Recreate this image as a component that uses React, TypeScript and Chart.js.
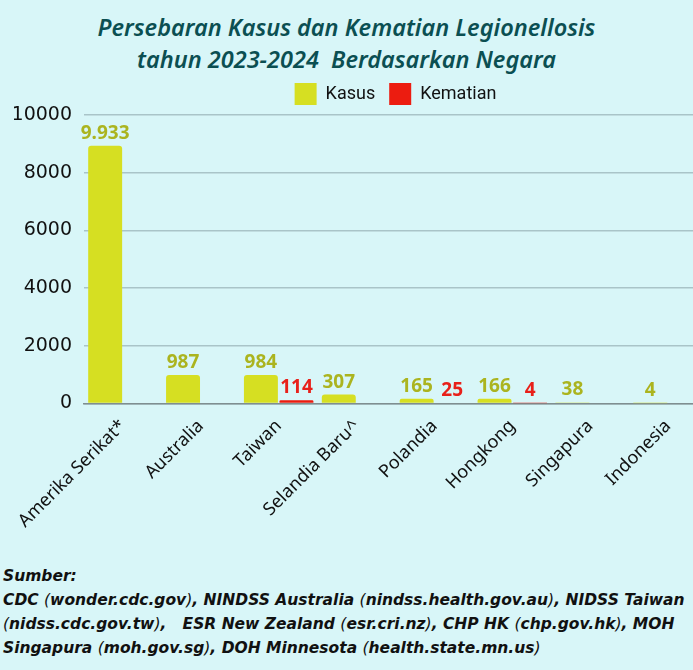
import React, { useEffect, useRef } from "react";
import { Chart, registerables } from "chart.js";

Chart.register(...registerables);

const categories = [
  "Amerika Serikat*",
  "Australia",
  "Taiwan",
  "Selandia Baru^",
  "Polandia",
  "Hongkong",
  "Singapura",
  "Indonesia",
];
const kasusValues = [8933, 987, 984, 307, 165, 166, 38, 4];
const kematianValues = [null, null, 114, null, 25, 4, null, null];
const kasusLabels = ["9.933", "987", "984", "307", "165", "166", "38", "4"];
const kematianLabels = ["", "", "114", "", "25", "4", "", ""];
const yMin = 0;
const yMax = 10000;
const yStep = 2000;

const titleLines = [
  "Persebaran Kasus dan Kematian Legionellosis",
  "tahun 2023-2024  Berdasarkan Negara",
];

const BG = "#d8f6f8";
const KASUS = "#d6df22";
const KEMATIAN = "#ec1c10";
const KASUS_LABEL = "#abb41f";
const KEMATIAN_LABEL = "#e8201a";

const labelPlugin = {
  id: "barLabels",
  afterDatasetsDraw(chart: any) {
    const ctx = chart.ctx;
    chart.data.datasets.forEach((ds: any, di: number) => {
      const meta = chart.getDatasetMeta(di);
      const labels = di === 0 ? kasusLabels : kematianLabels;
      const color = di === 0 ? KASUS_LABEL : KEMATIAN_LABEL;
      meta.data.forEach((bar: any, i: number) => {
        const t = labels[i];
        if (!t) return;
        const v = ds.data[i] ?? 0;
        const y = chart.scales.y.getPixelForValue(v);
        ctx.save();
        ctx.font = "bold 19px 'Noto Sans'";
        ctx.fillStyle = color;
        ctx.textAlign = "center";
        ctx.textBaseline = "alphabetic";
        ctx.fillText(t, bar.x, y - 7);
        ctx.restore();
      });
    });
  },
};

function ChartBox() {
  const ref = useRef<HTMLCanvasElement | null>(null);
  useEffect(() => {
    if (!ref.current) return;
    const chart = new Chart(ref.current, {
      type: "bar",
      data: {
        labels: categories,
        datasets: [
          {
            label: "Kasus",
            data: kasusValues,
            backgroundColor: KASUS,
            borderWidth: 0,
            borderRadius: 3,
            categoryPercentage: 0.913,
            barPercentage: 0.955,
          },
          {
            label: "Kematian",
            data: kematianValues as any,
            backgroundColor: KEMATIAN,
            borderWidth: 0,
            borderRadius: 3,
            categoryPercentage: 0.913,
            barPercentage: 0.955,
          },
        ],
      },
      options: {
        animation: false,
        responsive: true,
        maintainAspectRatio: false,
        layout: { padding: { left: 14, right: 13, top: 0, bottom: 0 } },
        plugins: {
          title: { display: false },
          tooltip: { enabled: false },
          legend: {
            display: true,
            position: "top",
            fullSize: false,
            labels: {
              boxWidth: 22,
              boxHeight: 22,
              padding: 14,
              color: "#111111",
              font: { family: "Roboto", size: 18 },
            },
          },
        },
        scales: {
          x: {
            grid: { display: false, drawTicks: false },
            border: { display: true, color: "#7f8e90", width: 1.5 },
            ticks: {
              color: "#111111",
              font: { family: "'Noto Sans'", size: 18 },
              maxRotation: 45,
              minRotation: 45,
              autoSkip: false,
              padding: 12,
            },
            afterFit: (scale: any) => {
              scale.paddingLeft = 0;
              scale.paddingRight = 0;
            },
          },
          y: {
            min: yMin,
            max: yMax,
            grid: { color: "#a9c4c8", lineWidth: 1.5, drawTicks: false },
            border: { display: false },
            ticks: {
              stepSize: yStep,
              color: "#111111",
              font: { family: "'DejaVu Sans'", size: 19 },
              padding: 12,
              callback: (v: any) => String(v),
            },
            afterFit: (scale: any) => {
              scale.width = 70;
            },
          },
        },
      },
      plugins: [labelPlugin],
    });
    return () => chart.destroy();
  }, []);
  return <canvas ref={ref} />;
}

const paren: React.CSSProperties = { fontWeight: 400 };

export default function App() {
  useEffect(() => {
    document.body.style.background = BG;
  }, []);
  const footerLine: React.CSSProperties = {
    position: "absolute",
    left: 3,
    whiteSpace: "pre",
    fontFamily: "'DejaVu Sans', sans-serif",
    fontStyle: "italic",
    fontWeight: 700,
    fontSize: 15.5,
    letterSpacing: 0,
    lineHeight: "20px",
    color: "#111111",
  };
  return (
    <div
      style={{
        position: "absolute",
        left: 0,
        top: 0,
        width: 693,
        height: 670,
        overflow: "hidden",
        background: BG,
      }}
    >
      {titleLines.map((t, i) => (
        <div
          key={i}
          style={{
            position: "absolute",
            left: 0,
            top: 11 + i * 32,
            width: 693,
            textAlign: "center",
            whiteSpace: "pre",
            fontFamily: "'Noto Sans', sans-serif",
            fontStyle: "italic",
            fontWeight: 600,
            fontSize: 23.5,
            lineHeight: "32px",
            color: "#0b4f52",
          }}
        >
          {t}
        </div>
      ))}
      <div
        style={{
          position: "absolute",
          left: 0,
          top: 69,
          width: 720,
          height: 475,
        }}
      >
        <ChartBox />
      </div>
      <div style={{ ...footerLine, top: 566 }}>Sumber:</div>
      <div style={{ ...footerLine, top: 590 }}>
        CDC <span style={paren}>(</span>wonder.cdc.gov<span style={paren}>)</span>, NINDSS Australia{" "}
        <span style={paren}>(</span>nindss.health.gov.au<span style={paren}>)</span>, NIDSS Taiwan
      </div>
      <div style={{ ...footerLine, top: 614 }}>
        <span style={paren}>(</span>nidss.cdc.gov.tw<span style={paren}>)</span>,   ESR New Zealand{" "}
        <span style={paren}>(</span>esr.cri.nz<span style={paren}>)</span>, CHP HK <span style={paren}>(</span>chp.gov.hk<span style={paren}>)</span>, MOH
      </div>
      <div style={{ ...footerLine, top: 638 }}>
        Singapura <span style={paren}>(</span>moh.gov.sg<span style={paren}>)</span>, DOH Minnesota{" "}
        <span style={paren}>(</span>health.state.mn.us<span style={paren}>)</span>
      </div>
    </div>
  );
}
